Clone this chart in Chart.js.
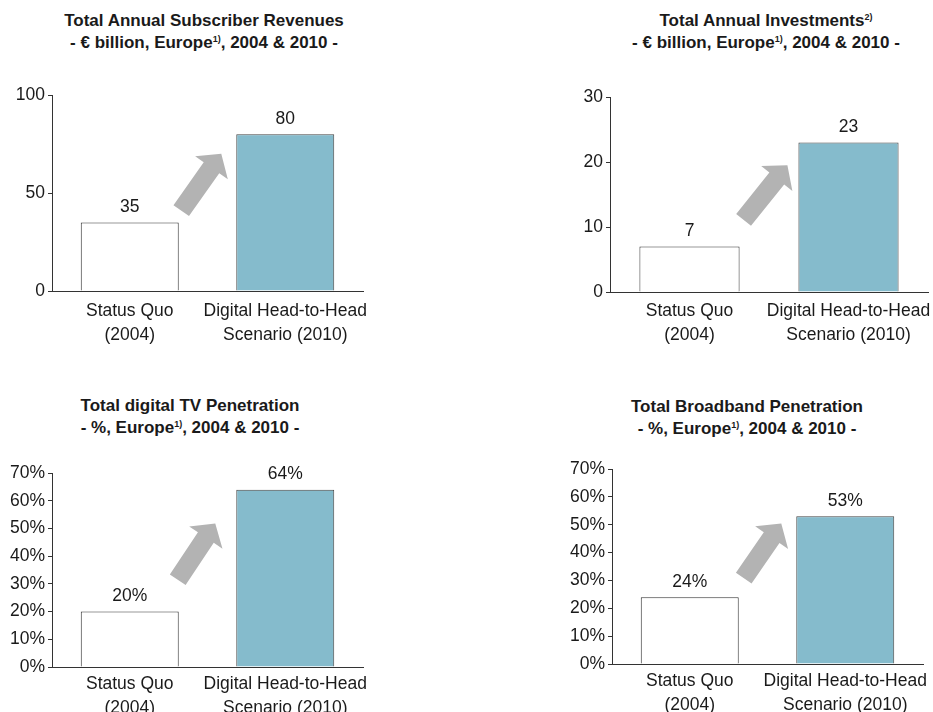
<!DOCTYPE html>
<html>
<head>
<meta charset="utf-8">
<script src="https://cdn.jsdelivr.net/npm/chart.js@4.4.1/dist/chart.umd.min.js"></script>
<style>
  body { margin: 0; width: 933px; height: 712px; overflow: hidden; background: #fff; position: relative;
         font-family: "Liberation Sans", Arial, sans-serif; color: #1a1a1a; }
  .ttl { position: absolute; width: 400px; text-align: center; font-weight: bold; font-size: 17px; line-height: 22px; }
  .ttl sup { font-size: 9px; vertical-align: 6px; line-height: 0; }
  canvas { position: absolute; }
</style>
</head>
<body>
<div class="ttl" style="left:4px;top:10px">Total Annual Subscriber Revenues<br>- € billion, Europe<sup>1)</sup>, 2004 &amp; 2010 -</div>
<div class="ttl" style="left:566px;top:10px">Total Annual Investments<sup>2)</sup><br>- € billion, Europe<sup>1)</sup>, 2004 &amp; 2010 -</div>
<div class="ttl" style="left:-10px;top:395px">Total digital TV Penetration<br>- %, Europe<sup>1)</sup>, 2004 &amp; 2010 -</div>
<div class="ttl" style="left:547px;top:396px">Total Broadband Penetration<br>- %, Europe<sup>1)</sup>, 2004 &amp; 2010 -</div>

<canvas id="c-rev" width="380" height="275" style="left:0;top:80px"></canvas>
<canvas id="c-inv" width="373" height="275" style="left:560px;top:80px"></canvas>
<canvas id="c-tv" width="380" height="257" style="left:0;top:455px"></canvas>
<canvas id="c-bb" width="373" height="257" style="left:560px;top:455px"></canvas>

<script>
// données
const categories = [['Status Quo', '(2004)'], ['Digital Head-to-Head', 'Scenario (2010)']];
const revenues = [35, 80];        // € milliards
const investments = [7, 23];      // € milliards
const tvPenetration = [20, 64];   // %
const bbPenetration = [24, 53];   // %

const FONT = '"Liberation Sans", Arial, sans-serif';
const INK = '#1a1a1a';

// étiquettes de valeur au-dessus des barres
const valueLabels = {
  id: 'valueLabels',
  afterDatasetsDraw(chart, args, opts) {
    const { ctx } = chart;
    const data = chart.data.datasets[0].data;
    chart.getDatasetMeta(0).data.forEach((bar, i) => {
      ctx.save();
      ctx.font = `17.5px ${FONT}`;
      ctx.fillStyle = INK;
      ctx.textAlign = 'center';
      ctx.textBaseline = 'middle';
      ctx.fillText(data[i] + (opts.suffix || ''), bar.x, bar.y - 15);
      ctx.restore();
    });
  },
};

// flèche grise entre les deux barres
const growthArrow = {
  id: 'growthArrow',
  afterDatasetsDraw(chart, args, opts) {
    const { ctx, chartArea: a } = chart;
    const [b1, b2] = chart.getDatasetMeta(0).data;
    const tx = b1.x + b1.width / 2 + opts.tailGap, ty = a.top + a.height * opts.tailY;
    const px = b2.x - b2.width / 2 - opts.tipGap, py = a.top + a.height * opts.tipY;
    const len = Math.hypot(px - tx, py - ty);
    const ux = (px - tx) / len, uy = (py - ty) / len, nx = -uy, ny = ux;
    const sw = 9.5, hw = 20, hl = 17;
    const bx = px - ux * hl, by = py - uy * hl;
    ctx.save();
    ctx.fillStyle = '#b3b3b3';
    ctx.beginPath();
    ctx.moveTo(tx + nx * sw, ty + ny * sw);
    ctx.lineTo(bx + nx * sw, by + ny * sw);
    ctx.lineTo(bx + nx * hw, by + ny * hw);
    ctx.lineTo(px, py);
    ctx.lineTo(bx - nx * hw, by - ny * hw);
    ctx.lineTo(bx - nx * sw, by - ny * sw);
    ctx.lineTo(tx - nx * sw, ty - ny * sw);
    ctx.closePath();
    ctx.fill();
    ctx.restore();
  },
};

function makeChart(id, values, o) {
  return new Chart(document.getElementById(id), {
    type: 'bar',
    data: {
      labels: categories,
      datasets: [{
        data: values,
        backgroundColor: ['#ffffff', '#85bbcc'],
        borderColor: ['#333333', '#444444'],
        borderWidth: 1,
        barPercentage: 0.63,
        categoryPercentage: 1,
      }],
    },
    options: {
      responsive: false,
      animation: false,
      events: [],
      layout: { padding: { top: o.padTop, right: o.padRight, left: 0, bottom: 0 } },
      plugins: {
        legend: { display: false },
        tooltip: { enabled: false },
        valueLabels: { suffix: o.suffix },
        growthArrow: o.arrow,
      },
      scales: {
        x: {
          grid: { display: false },
          border: { display: true, color: '#333', width: 1 },
          ticks: { color: INK, font: { family: FONT, size: 17.5, lineHeight: '24px' }, padding: o.xPad, maxRotation: 0, autoSkip: false },
          afterFit: (s) => { s.height = o.xHeight; s.paddingLeft = 0; s.paddingRight = 0; },
        },
        y: {
          min: 0, max: o.max,
          grid: { display: true, drawOnChartArea: false, drawTicks: true, tickLength: 4, color: '#333' },
          border: { display: true, color: '#333', width: 1 },
          ticks: { stepSize: o.step, color: INK, font: { family: FONT, size: 17.5 }, padding: 3,
                   callback: (v) => v + (o.suffix || '') },
          afterFit: (s) => { s.width = o.yWidth; },
        },
      },
    },
    plugins: [valueLabels, growthArrow],
  });
}

makeChart('c-rev', revenues, {
  max: 100, step: 50, suffix: '', yWidth: 52, padTop: 15, padRight: 17, xHeight: 64, xPad: 0,
  arrow: { tailGap: 2.5, tipGap: 15, tailY: 0.59, tipY: 0.30 },
});
makeChart('c-inv', investments, {
  max: 30, step: 10, suffix: '', yWidth: 50, padTop: 17, padRight: 5, xHeight: 63, xPad: -1,
  arrow: { tailGap: 4, tipGap: 11, tailY: 0.63, tipY: 0.35 },
});
makeChart('c-tv', tvPenetration, {
  max: 70, step: 10, suffix: '%', yWidth: 52, padTop: 18, padRight: 17, xHeight: 45, xPad: -3,
  arrow: { tailGap: -1, tipGap: 21, tailY: 0.55, tipY: 0.26 },
});
makeChart('c-bb', bbPenetration, {
  max: 70, step: 10, suffix: '%', yWidth: 52, padTop: 14, padRight: 10, xHeight: 48, xPad: -3,
  arrow: { tailGap: 5, tipGap: 15, tailY: 0.56, tipY: 0.28 },
});
</script>
</body>
</html>
